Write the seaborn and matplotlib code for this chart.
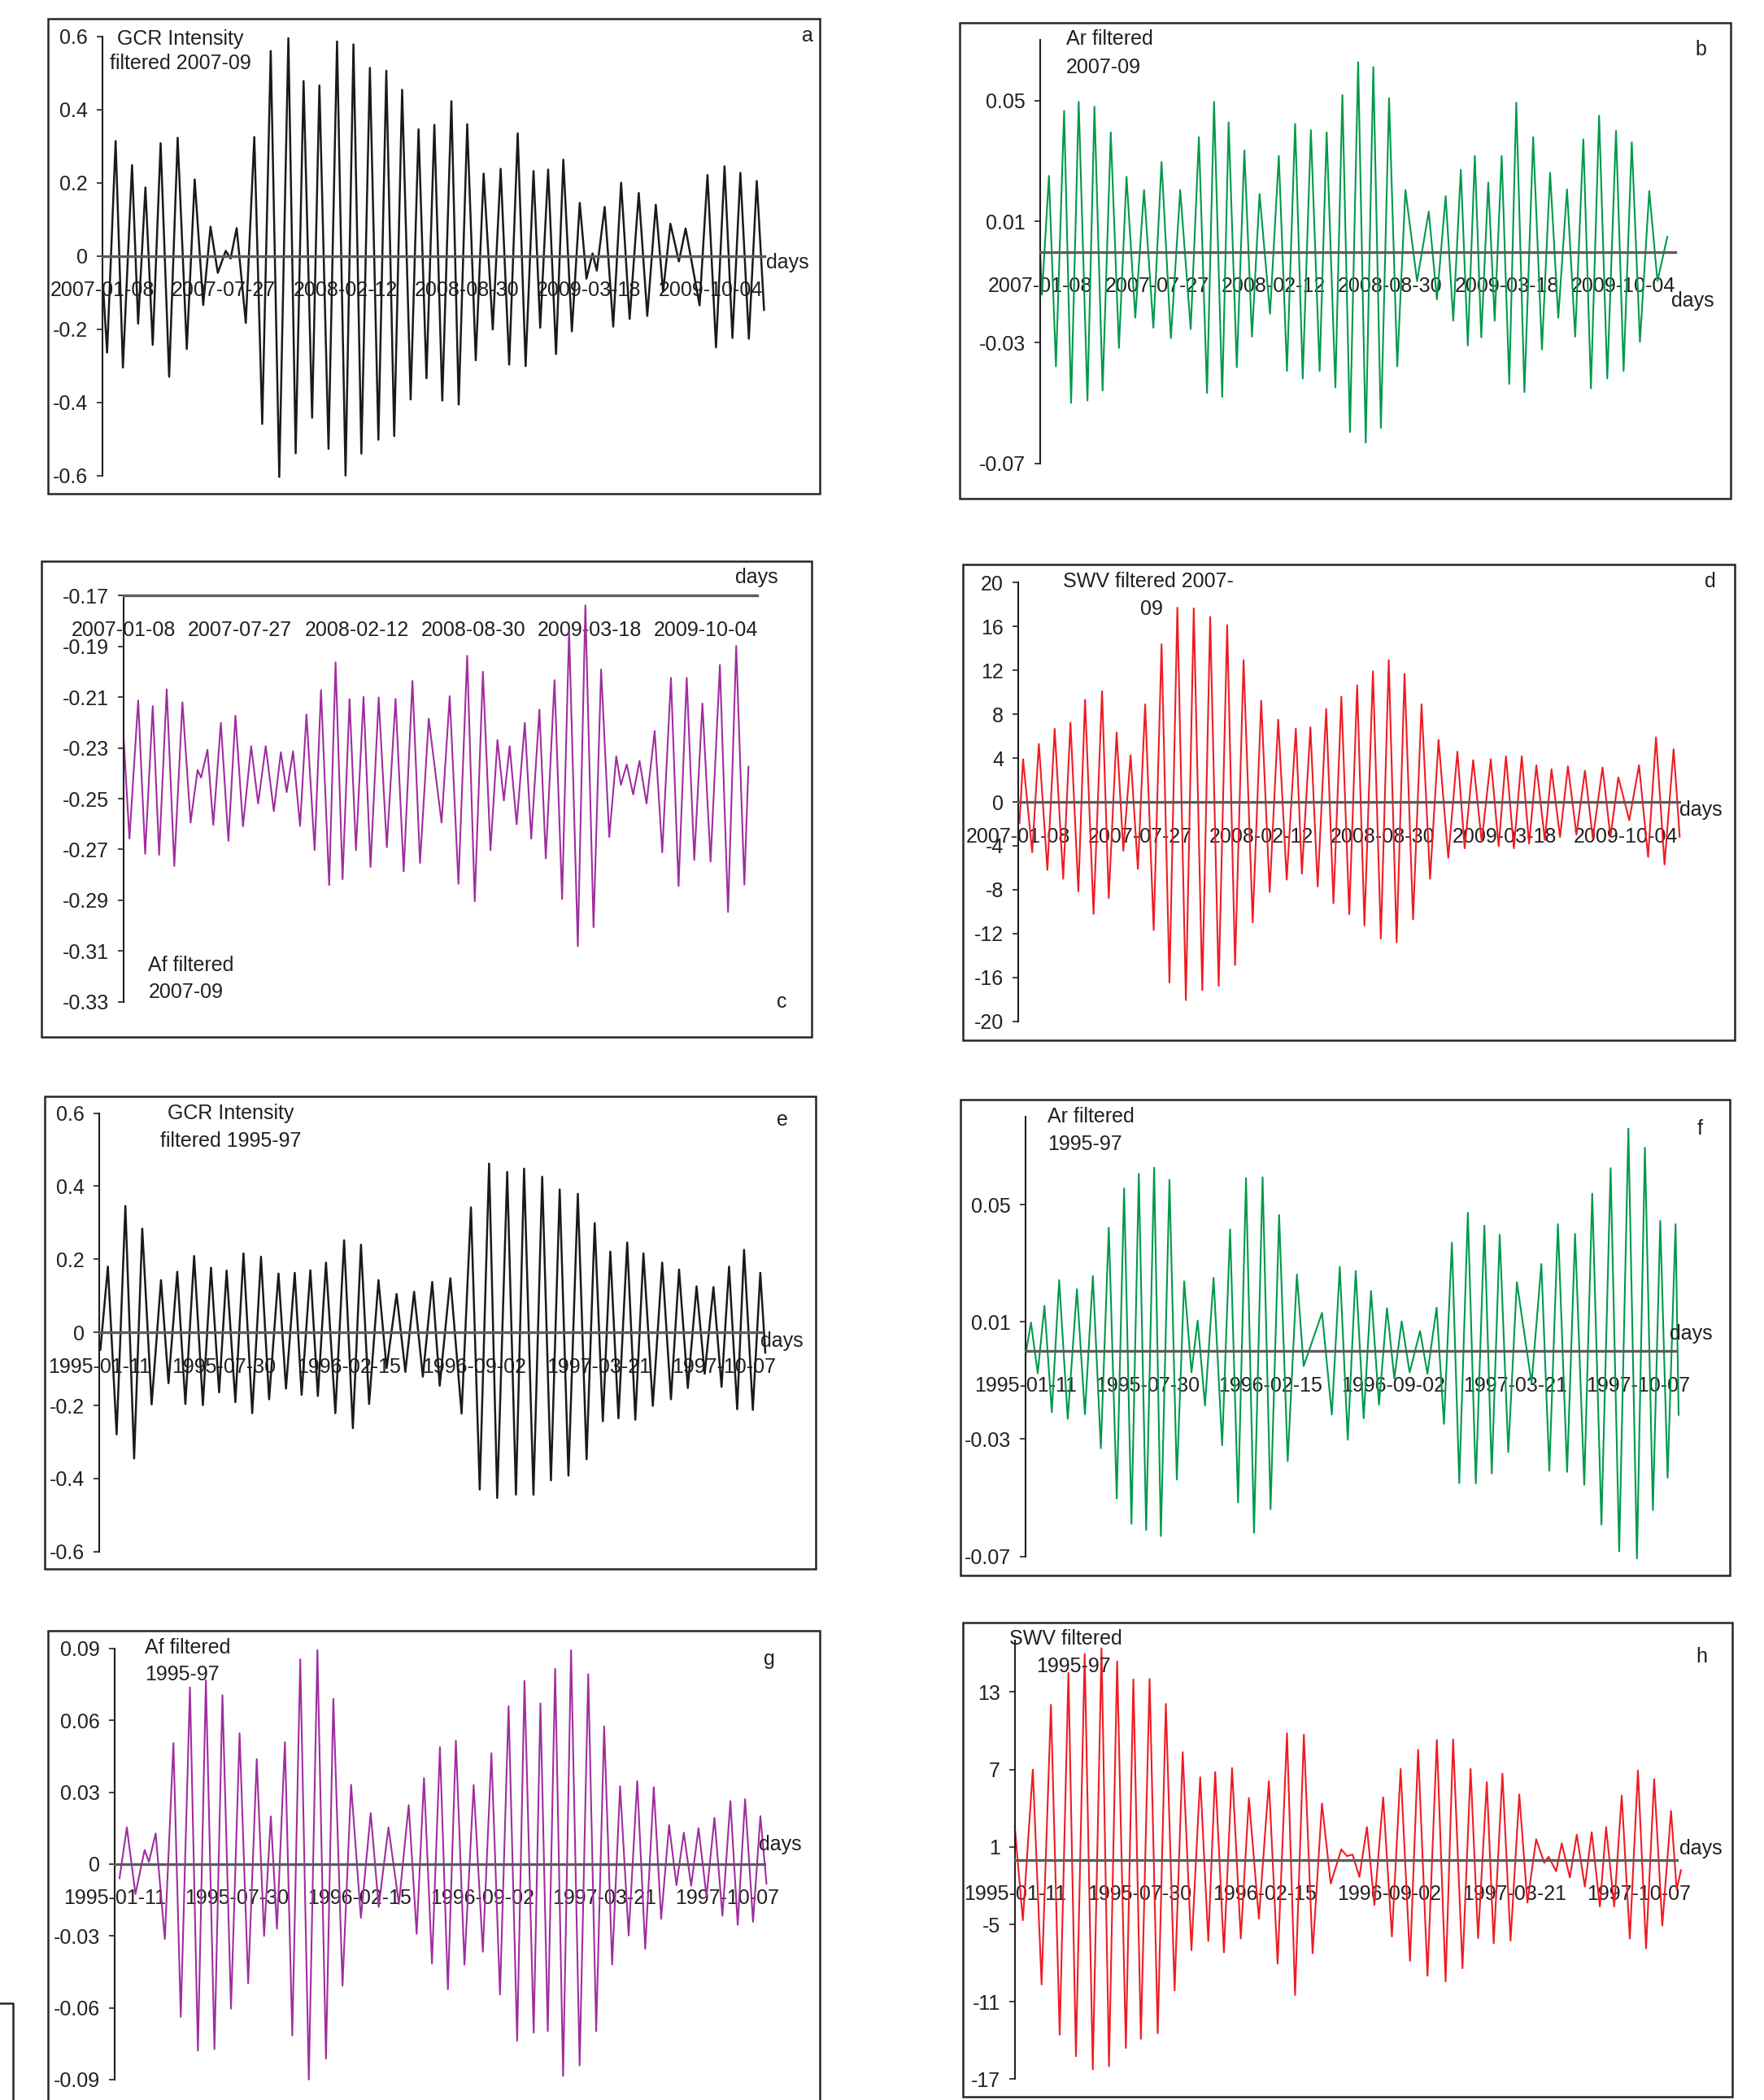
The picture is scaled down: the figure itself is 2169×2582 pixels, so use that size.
import matplotlib
matplotlib.use("Agg")
import matplotlib.pyplot as plt
from matplotlib.lines import Line2D
from matplotlib.patches import Rectangle
import pandas as pd
import seaborn as sns

# ---------------------------------------------------------------- data
# Day index (days since first date) and value of each turning point of the filtered series.
dates_0709 = ["2007-01-08", "2007-07-27", "2008-02-12", "2008-08-30", "2009-03-18", "2009-10-04"]
dates_9597 = ["1995-01-11", "1995-07-30", "1996-02-15", "1996-09-02", "1997-03-21", "1997-10-07"]

gcr_0709_day = [2, 8, 22, 34, 49, 59, 71, 83, 96, 110, 124, 139, 152, 166, 178, 190, 203, 211, 221, 236,
                250, 263, 277, 291, 306, 318, 331, 345, 357, 372, 386, 400, 413, 426, 440, 454, 467, 480, 493, 507,
                520, 533, 546, 559, 574, 586, 600, 614, 627, 642, 655, 669, 683, 696, 709, 720, 733, 746, 758, 772,
                785, 796, 806, 813, 826, 840, 853, 867, 882, 896, 910, 922, 934, 948, 959, 982, 995, 1009, 1023, 1036,
                1049, 1063, 1076, 1088]
gcr_0709_val = [-0.10, -0.264, 0.314, -0.305, 0.248, -0.185, 0.187, -0.243, 0.308, -0.33,
                0.323, -0.254, 0.209, -0.134, 0.080, -0.046, 0.014, -0.007, 0.076, -0.183,
                0.325, -0.459, 0.560, -0.604, 0.595, -0.539, 0.478, -0.442, 0.466, -0.527,
                0.586, -0.600, 0.578, -0.540, 0.514, -0.502, 0.506, -0.492, 0.454, -0.392,
                0.346, -0.334, 0.358, -0.395, 0.423, -0.406, 0.360, -0.285, 0.225, -0.201,
                0.238, -0.297, 0.335, -0.301, 0.232, -0.196, 0.236, -0.268, 0.263, -0.206,
                0.145, -0.062, 0.007, -0.040, 0.134, -0.193, 0.200, -0.172, 0.172, -0.164,
                0.140, -0.098, 0.088, -0.015, 0.075, -0.135, 0.221, -0.250, 0.245, -0.224,
                0.227, -0.226, 0.205, -0.148]

ar_0709_day = [0, 3, 15, 27, 41, 53, 66, 81, 93, 107, 121, 135, 148, 163, 178, 194, 208, 224, 240, 258,
               272, 286, 298, 312, 323, 337, 350, 363, 376, 394, 409, 423, 437, 450, 464, 479, 491, 506, 518, 531,
               545, 558, 571, 584, 598, 612, 626, 646, 666, 680, 695, 708, 721, 733, 745, 756, 768, 779, 791, 804,
               816, 830, 845, 860, 874, 888, 903, 917, 931, 944, 958, 972, 987, 1000, 1014, 1028, 1044, 1058, 1075]
ar_0709_val = [0.0004, -0.0142, 0.0251, -0.0379, 0.0466, -0.0500, 0.0496, -0.0492, 0.0480, -0.0459,
               0.0395, -0.0318, 0.0248, -0.0218, 0.0204, -0.0251, 0.0297, -0.0286, 0.0204, -0.0256,
               0.0379, -0.0467, 0.0496, -0.0480, 0.0428, -0.0382, 0.0335, -0.0281, 0.0191, -0.0205,
               0.0317, -0.0394, 0.0423, -0.0419, 0.0402, -0.0394, 0.0395, -0.0449, 0.0518, -0.0596,
               0.0627, -0.0631, 0.0611, -0.0583, 0.0508, -0.0379, 0.0204, -0.0097, 0.0133, -0.0157,
               0.0184, -0.0228, 0.0271, -0.0310, 0.0317, -0.0283, 0.0229, -0.0228, 0.0317, -0.0437,
               0.0493, -0.0464, 0.0379, -0.0323, 0.0261, -0.0218, 0.0206, -0.0281, 0.0372, -0.0452,
               0.0450, -0.0419, 0.0400, -0.0394, 0.0362, -0.0298, 0.0201, -0.0097, 0.0050]

af_0709_day = [0, 10, 25, 37, 50, 61, 74, 87, 101, 115, 127, 133, 144, 154, 167, 180, 192, 205, 219, 231,
               244, 258, 270, 280, 291, 303, 314, 328, 339, 353, 364, 376, 388, 399, 412, 424, 438, 452, 467, 481,
               496, 509, 524, 546, 560, 575, 590, 603, 617, 630, 642, 653, 663, 675, 689, 700, 714, 725, 740, 753,
               765, 780, 793, 807, 820, 834, 846, 854, 864, 875, 886, 898, 912, 925, 940, 953, 967, 980, 994, 1008,
               1024, 1038, 1052, 1066, 1073]
af_0709_val = [-0.2261, -0.2657, -0.2113, -0.2717, -0.2135, -0.2721, -0.2069, -0.2765, -0.2120, -0.2594,
               -0.2387, -0.2417, -0.2307, -0.2603, -0.2201, -0.2666, -0.2173, -0.2609, -0.2293, -0.2519,
               -0.2293, -0.2549, -0.2317, -0.2474, -0.2313, -0.2607, -0.2168, -0.2702, -0.2072, -0.2840,
               -0.1963, -0.2817, -0.2108, -0.2703, -0.2099, -0.2769, -0.2101, -0.2691, -0.2107, -0.2786,
               -0.2036, -0.2753, -0.2185, -0.2594, -0.2096, -0.2835, -0.1937, -0.2904, -0.2000, -0.2703,
               -0.2269, -0.2507, -0.2293, -0.2601, -0.2201, -0.2657, -0.2149, -0.2735, -0.2033, -0.2895,
               -0.1837, -0.3081, -0.1738, -0.3006, -0.1991, -0.2651, -0.2333, -0.2445, -0.2365, -0.2483,
               -0.2351, -0.2519, -0.2233, -0.2711, -0.2024, -0.2844, -0.2024, -0.2741, -0.2125, -0.2747,
               -0.1973, -0.2946, -0.1898, -0.2838, -0.2373]

swv_0709_day = [2, 8, 23, 34, 48, 60, 74, 86, 99, 110, 124, 138, 149, 162, 173, 185, 197, 209, 223, 236,
                249, 262, 276, 289, 303, 316, 330, 344, 357, 371, 386, 400, 414, 428, 442, 457, 467, 481, 493, 507,
                519, 532, 545, 558, 570, 584, 597, 610, 623, 636, 650, 664, 678, 692, 708, 723, 735, 749, 763, 778,
                791, 803, 816, 829, 841, 853, 867, 878, 892, 905, 919, 933, 946, 962, 975, 988, 1006, 1022, 1037, 1050,
                1064, 1079, 1089]
swv_0709_val = [-1.95, 3.89, -4.59, 5.29, -6.20, 6.68, -7.01, 7.23, -8.15, 9.32,
                -10.21, 10.10, -8.76, 6.34, -4.45, 4.26, -6.12, 8.90, -11.68, 14.38,
                -16.47, 17.72, -18.08, 17.66, -17.16, 16.88, -16.77, 16.13, -14.88, 12.93,
                -10.99, 9.23, -8.21, 7.51, -7.09, 6.68, -6.54, 6.81, -7.71, 8.48,
                -9.24, 9.60, -10.24, 10.63, -11.27, 11.91, -12.46, 12.93, -12.80, 11.68,
                -10.71, 8.90, -7.01, 5.65, -5.09, 4.59, -4.23, 3.81, -3.62, 3.89,
                -4.03, 4.17, -4.23, 4.17, -3.81, 3.34, -3.48, 2.98, -3.20, 3.25,
                -2.98, 2.84, -3.34, 3.14, -3.20, 2.23, -1.67, 3.34, -5.01, 5.90,
                -5.70, 4.81, -3.20]

gcr_9597_day = [2, 14, 28, 42, 56, 69, 84, 99, 111, 125, 138, 152, 166, 179, 192, 204, 218, 231, 245, 259,
                272, 287, 299, 313, 324, 338, 350, 363, 378, 392, 406, 419, 432, 447, 460, 476, 490, 504, 518, 533,
                545, 562, 580, 595, 609, 624, 637, 653, 667, 680, 695, 709, 723, 737, 751, 766, 780, 793, 806, 818,
                831, 845, 858, 871, 886, 901, 915, 928, 942, 956, 969, 983, 996, 1008, 1021, 1032, 1046, 1058, 1066]
gcr_9597_val = [-0.048, 0.180, -0.279, 0.346, -0.345, 0.284, -0.197, 0.143, -0.139, 0.166,
                -0.196, 0.209, -0.199, 0.177, -0.164, 0.169, -0.191, 0.216, -0.221, 0.207,
                -0.183, 0.161, -0.154, 0.163, -0.171, 0.170, -0.174, 0.191, -0.221, 0.252,
                -0.262, 0.240, -0.196, 0.143, -0.098, 0.105, -0.108, 0.111, -0.121, 0.138,
                -0.146, 0.148, -0.222, 0.342, -0.430, 0.462, -0.453, 0.439, -0.444, 0.448,
                -0.444, 0.426, -0.405, 0.391, -0.392, 0.379, -0.347, 0.299, -0.243, 0.221,
                -0.235, 0.246, -0.239, 0.216, -0.201, 0.191, -0.183, 0.172, -0.152, 0.126,
                -0.113, 0.124, -0.149, 0.180, -0.210, 0.226, -0.212, 0.163, -0.056]

ar_9597_day = [0, 9, 20, 31, 43, 55, 69, 84, 97, 110, 123, 136, 149, 161, 173, 185, 197, 210, 221, 235,
               247, 259, 271, 281, 293, 307, 321, 334, 347, 360, 373, 387, 400, 414, 428, 443, 454, 484, 500, 513,
               526, 539, 552, 564, 577, 590, 602, 614, 627, 644, 656, 671, 683, 696, 708, 722, 735, 749, 761, 774,
               788, 802, 826, 842, 855, 869, 884, 897, 912, 925, 940, 955, 969, 984, 998, 1011, 1024, 1036, 1048, 1061,
               1066]
ar_9597_val = [-0.0015, 0.0098, -0.0075, 0.0155, -0.0208, 0.0243, -0.0231, 0.0212, -0.0215, 0.0257,
               -0.0331, 0.0422, -0.0503, 0.0556, -0.0589, 0.0606, -0.0610, 0.0627, -0.0631, 0.0585,
               -0.0438, 0.0239, -0.0072, 0.0105, -0.0185, 0.0251, -0.0321, 0.0416, -0.0516, 0.0591,
               -0.0620, 0.0594, -0.0539, 0.0465, -0.0375, 0.0262, -0.0051, 0.0131, -0.0216, 0.0288,
               -0.0302, 0.0274, -0.0229, 0.0206, -0.0182, 0.0147, -0.0093, 0.0102, -0.0072, 0.0069,
               -0.0077, 0.0149, -0.0248, 0.0371, -0.0450, 0.0473, -0.0451, 0.0429, -0.0417, 0.0398,
               -0.0344, 0.0236, -0.0109, 0.0298, -0.0408, 0.0434, -0.0412, 0.0401, -0.0456, 0.0538,
               -0.0592, 0.0625, -0.0683, 0.0760, -0.0707, 0.0695, -0.0542, 0.0445, -0.0432, 0.0434,
               -0.0218]

af_9597_day = [8, 20, 34, 49, 56, 67, 82, 96, 108, 123, 136, 149, 163, 176, 190, 204, 218, 232, 244, 255,
               265, 278, 290, 303, 317, 331, 345, 357, 372, 386, 402, 418, 431, 447, 464, 480, 493, 505, 518, 531,
               544, 557, 571, 586, 601, 615, 629, 643, 657, 669, 684, 695, 707, 719, 732, 745, 759, 773, 786, 799,
               812, 825, 839, 853, 866, 880, 892, 905, 917, 929, 941, 953, 966, 979, 992, 1005, 1017, 1029, 1042, 1054,
               1064]
af_9597_val = [-0.0060, 0.0153, -0.0125, 0.0059, 0.0009, 0.0128, -0.0313, 0.0505, -0.0638, 0.0738,
               -0.0779, 0.0768, -0.0773, 0.0705, -0.0604, 0.0546, -0.0498, 0.0438, -0.0300, 0.0199,
               -0.0270, 0.0509, -0.0716, 0.0855, -0.0900, 0.0893, -0.0813, 0.0690, -0.0508, 0.0331,
               -0.0225, 0.0213, -0.0179, 0.0153, -0.0166, 0.0246, -0.0291, 0.0359, -0.0416, 0.0488,
               -0.0523, 0.0515, -0.0420, 0.0330, -0.0366, 0.0463, -0.0545, 0.0659, -0.0738, 0.0765,
               -0.0704, 0.0671, -0.0698, 0.0815, -0.0885, 0.0893, -0.0841, 0.0793, -0.0698, 0.0575,
               -0.0420, 0.0325, -0.0298, 0.0346, -0.0354, 0.0321, -0.0229, 0.0163, -0.0088, 0.0131,
               -0.0091, 0.0150, -0.0135, 0.0193, -0.0216, 0.0263, -0.0254, 0.0271, -0.0241, 0.0200,
               -0.0083]

swv_9597_day = [0, 13, 29, 43, 58, 72, 86, 98, 112, 125, 139, 151, 164, 178, 190, 202, 216, 229, 242, 256,
                269, 283, 297, 310, 321, 335, 348, 362, 375, 391, 407, 421, 436, 449, 463, 477, 492, 506, 523, 532,
                541, 552, 564, 576, 590, 604, 618, 633, 646, 661, 676, 690, 702, 717, 730, 742, 756, 767, 781, 794,
                808, 821, 835, 848, 855, 867, 876, 889, 900, 913, 924, 937, 947, 960, 972, 985, 998, 1011, 1024, 1037,
                1051, 1060, 1067]
swv_9597_val = [2.61, -4.68, 6.99, -9.66, 12.01, -13.56, 14.50, -15.22, 15.96, -16.24,
                16.39, -16.00, 15.37, -14.58, 13.98, -13.87, 14.02, -13.44, 12.08, -10.13,
                8.34, -7.00, 6.40, -6.29, 6.80, -7.17, 7.11, -6.10, 4.79, -4.56,
                6.09, -8.05, 9.81, -10.48, 9.71, -7.24, 4.36, -1.84, 0.81, 0.29,
                0.41, -1.32, 2.54, -3.50, 4.84, -5.94, 7.04, -7.83, 8.53, -8.99,
                9.29, -9.42, 9.33, -8.40, 7.04, -6.06, 6.02, -6.46, 6.68, -6.27,
                5.07, -3.31, 1.59, -0.23, 0.24, -0.89, 1.28, -1.37, 1.95, -2.08,
                2.14, -3.62, 2.54, -3.62, 4.98, -6.10, 6.92, -6.86, 6.26, -5.09,
                3.79, -2.31, -0.78]

# ---------------------------------------------------------------- style
sns.set_theme(style="white")
plt.rcParams["font.family"] = ["Liberation Sans", "DejaVu Sans"]

W, H, DPI = 2169, 2582, 100
TXT = "#231f20"
AXIS_GRAY = "#5c5c5c"
FS = 18

fig = plt.figure(figsize=(W / DPI, H / DPI), dpi=DPI)
fig.patch.set_facecolor("white")


def fx(x):
    return x / W


def fy(y):
    return 1 - y / H


def put_text(x, y, s, ha="left"):
    fig.text(fx(x), fy(y), s, ha=ha, va="baseline", fontsize=FS, color=TXT)


def frame(x0, y0, x1, y1):
    fig.add_artist(Rectangle((fx(x0), fy(y1)), fx(x1 - x0), (y1 - y0) / H,
                             transform=fig.transFigure, fill=False,
                             edgecolor="#262626", linewidth=1.8))


def panel(box, area, days, vals, color, ylim, yticks, yticklabels, dates, ndays,
          axis_at=0.0, lw=1.5):
    frame(*box)
    left, right, top, bottom = area
    ax = fig.add_axes([fx(left), fy(bottom), fx(right - left), (bottom - top) / H])
    ax.patch.set_alpha(0)
    df = pd.DataFrame({"day": days, "value": vals})
    sns.lineplot(data=df, x="day", y="value", ax=ax, sort=False, estimator=None,
                 color=color, linewidth=lw)
    for ln in ax.lines:
        ln.set_clip_on(False)
        ln.set_solid_joinstyle("round")
    ax.set_xlim(0, ndays)
    ax.set_ylim(*ylim)
    ax.set_xlabel("")
    ax.set_ylabel("")
    ax.set_yticks(yticks)
    ax.set_yticklabels(yticklabels)
    ax.set_xticks(list(range(0, 1001, 200)))
    ax.set_xticklabels(dates)
    for side in ("top", "right"):
        ax.spines[side].set_visible(False)
    ax.spines["left"].set_color(TXT)
    ax.spines["left"].set_linewidth(1.5)
    ax.spines["bottom"].set_position(("data", axis_at))
    ax.spines["bottom"].set_color(AXIS_GRAY)
    ax.spines["bottom"].set_linewidth(2.4)
    ax.spines["bottom"].set_zorder(3)
    ax.tick_params(axis="x", direction="out", length=5, width=1.2, color=TXT,
                   pad=17, labelsize=FS, labelcolor=TXT)
    ax.tick_params(axis="y", direction="out", length=5, width=1.2, color=TXT,
                   pad=8, labelsize=FS, labelcolor=TXT, left=True)
    ax.grid(False)
    return ax


BLACK, GREEN, PURPLE, RED = "#1a1a1a", "#00994d", "#a02d9f", "#ee1c25"

# a: GCR 2007-09
panel((59, 23, 1008, 607), (125.7, 939.5, 44.7, 584.7), gcr_0709_day, gcr_0709_val, BLACK,
      (-0.6, 0.6), [0.6, 0.4, 0.2, 0, -0.2, -0.4, -0.6],
      ["0.6", "0.4", "0.2", "0", "-0.2", "-0.4", "-0.6"], dates_0709, 1088, lw=1.8)
put_text(222, 54.7, "GCR Intensity", ha="center")
put_text(222, 84.7, "filtered 2007-09", ha="center")
put_text(993, 51, "a", ha="center")
put_text(942, 330, "days")

# b: Ar 2007-09
panel((1180, 28, 2128, 613), (1279, 2059.5, 49.3, 569.8), ar_0709_day, ar_0709_val, GREEN,
      (-0.07, 0.07), [0.05, 0.01, -0.03, -0.07], ["0.05", "0.01", "-0.03", "-0.07"],
      dates_0709, 1088)
put_text(1311, 55.3, "Ar filtered")
put_text(1311, 89.8, "2007-09")
put_text(2091.6, 68, "b", ha="center")
put_text(2055, 376.6, "days")

# c: Af 2007-09 (category axis crosses at the top)
panel((51, 690, 998, 1275), (152, 931, 732.3, 1231.8), af_0709_day, af_0709_val, PURPLE,
      (-0.33, -0.17), [-0.17, -0.19, -0.21, -0.23, -0.25, -0.27, -0.29, -0.31, -0.33],
      ["-0.17", "-0.19", "-0.21", "-0.23", "-0.25", "-0.27", "-0.29", "-0.31", "-0.33"],
      dates_0709, 1088, axis_at=-0.17)
put_text(182.4, 1193.5, "Af filtered")
put_text(182.4, 1226.9, "2007-09")
put_text(961.6, 1239, "c", ha="center")
put_text(904, 717, "days")

# d: SWV 2007-09
panel((1184, 694, 2133, 1279), (1252, 2064.6, 716.4, 1255.6), swv_0709_day, swv_0709_val, RED,
      (-20, 20), list(range(20, -21, -4)), [str(v) for v in range(20, -21, -4)],
      dates_0709, 1088)
put_text(1306.6, 722, "SWV filtered 2007-")
put_text(1402, 755.8, "09")
put_text(2103, 722, "d", ha="center")
put_text(2065, 1002.5, "days")

# e: GCR 1995-97
panel((55, 1348, 1003, 1929), (121.9, 936.4, 1368.6, 1907.8), gcr_9597_day, gcr_9597_val, BLACK,
      (-0.6, 0.6), [0.6, 0.4, 0.2, 0, -0.2, -0.4, -0.6],
      ["0.6", "0.4", "0.2", "0", "-0.2", "-0.4", "-0.6"], dates_9597, 1060, lw=1.8)
put_text(284, 1376.1, "GCR Intensity", ha="center")
put_text(284, 1409.7, "filtered 1995-97", ha="center")
put_text(961.8, 1384.3, "e", ha="center")
put_text(935, 1656, "days")

# f: Ar 1995-97
panel((1181, 1352, 2127, 1937), (1260.9, 2059.5, 1373.3, 1913.5), ar_9597_day, ar_9597_val, GREEN,
      (-0.07, 0.08), [0.05, 0.01, -0.03, -0.07], ["0.05", "0.01", "-0.03", "-0.07"],
      dates_9597, 1060)
put_text(1288.2, 1380, "Ar filtered")
put_text(1288.2, 1413.9, "1995-97")
put_text(2090.5, 1395, "f", ha="center")
put_text(2053.5, 1647.5, "days")

# g: Af 1995-97
panel((59, 2005, 1008, 2600), (140.9, 939.5, 2026.9, 2556.9), af_9597_day, af_9597_val, PURPLE,
      (-0.09, 0.09), [0.09, 0.06, 0.03, 0, -0.03, -0.06, -0.09],
      ["0.09", "0.06", "0.03", "0", "-0.03", "-0.06", "-0.09"], dates_9597, 1060)
put_text(178.5, 2032.8, "Af filtered")
put_text(178.5, 2065.9, "1995-97")
put_text(945.6, 2047.5, "g", ha="center")
put_text(933.5, 2275, "days")

# h: SWV 1995-97
panel((1184, 1995, 2130, 2578), (1247.7, 2061.6, 2017, 2556.4), swv_9597_day, swv_9597_val, RED,
      (-17, 17), [13, 7, 1, -5, -11, -17], ["13", "7", "1", "-5", "-11", "-17"],
      dates_9597, 1060)
put_text(1241, 2022.3, "SWV filtered")
put_text(1274.4, 2056.1, "1995-97")
put_text(2092, 2043.7, "h", ha="center")
put_text(2064.6, 2280.3, "days")

# corner of a neighbouring frame at the lower left edge
fig.add_artist(Line2D([0, fx(16), fx(16)], [fy(2463), fy(2463), 0],
                      transform=fig.transFigure, color="#262626", linewidth=1.8))

fig.savefig("out.png", dpi=DPI, facecolor="white")
